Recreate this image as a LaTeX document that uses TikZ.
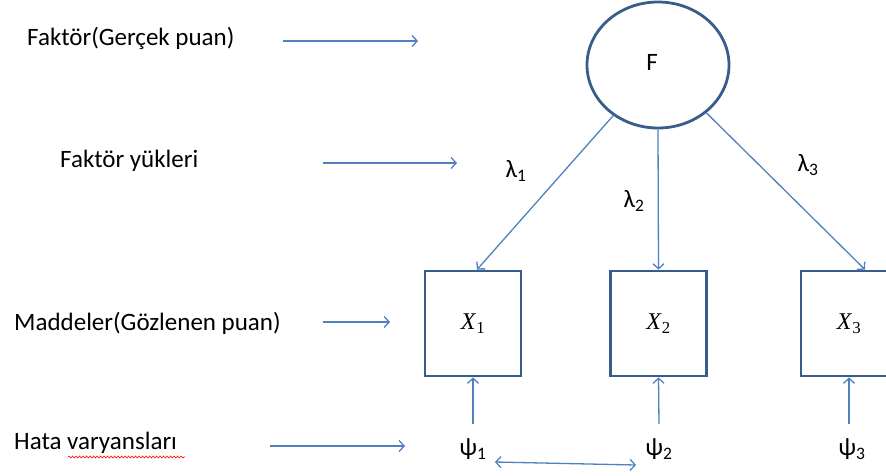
\documentclass[tikz,border=0pt]{standalone}
\usepackage{fontspec}
\setmainfont{Carlito}
\newfontfamily\itemfont{Liberation Serif}
\usetikzlibrary{arrows.meta,shapes.geometric,decorations.pathmorphing}
\definecolor{arr}{HTML}{4F81BD}
\definecolor{boxc}{HTML}{385D8A}
\begin{document}
\begin{tikzpicture}[x=1pt,y=-1pt,
  lbl/.style={font=\fontsize{25}{30}\selectfont, inner sep=0pt, anchor=west},
  sym/.style={font=\fontsize{25}{30}\selectfont, inner sep=0pt},
  conn/.style={draw=arr, line width=1.3pt, -{Straight Barb[length=5pt,width=11pt,line width=1.3pt]}},
  dconn/.style={draw=arr, line width=1.3pt, {Straight Barb[length=5pt,width=11pt,line width=1.3pt]}-{Straight Barb[length=5pt,width=11pt,line width=1.3pt]}},
  itembox/.style={draw=boxc, line width=2.8pt, minimum width=96pt, minimum height=105pt, inner sep=0pt, font=\itemfont\fontsize{24}{28}\selectfont},
  factor/.style={ellipse, draw=boxc, line width=2.8pt, minimum width=142pt, minimum height=126pt, inner sep=0pt}
]
\useasboundingbox (0,0) rectangle (886,475);

% left labels
\node[lbl] (l1) at (27,38) {Faktör(Gerçek puan)};
\node[lbl] (l2) at (60,161) {Faktör yükleri};
\node[lbl] (l3) at (14,323) {Maddeler(Gözlenen puan)};
\node[lbl] (l4) at (14,443) {Hata varyansları};
\draw[red, line width=0.6pt, decorate, decoration={snake, amplitude=1pt, segment length=3.5pt}] (68,457) -- (185,457);

\coordinate (a1s) at (283,41); \coordinate (a1e) at (418,41);
\coordinate (a2s) at (323,163); \coordinate (a2e) at (457,163);
\coordinate (a3s) at (323,322); \coordinate (a3e) at (390,322);
\coordinate (a4s) at (270,446); \coordinate (a4e) at (405,446);
\draw[conn] (a1s) -- (a1e);
\draw[conn] (a2s) -- (a2e);
\draw[conn] (a3s) -- (a3e);
\draw[conn] (a4s) -- (a4e);

% factor
\node[factor] (F) at (658,65) {};
\node[sym] (Ft) at (652,62) {F};

% item boxes
\begin{scope}
\clip (0,0) rectangle (886,475);
\node[itembox] (X1) at (473,323.5) {\textit{X}\textsubscript{1}};
\node[itembox] (X2) at (658.5,323.5) {\textit{X}\textsubscript{2}};
\node[itembox] (X3) at (849,323.5) {\textit{X}\textsubscript{3}};
\end{scope}

% loadings
\draw[conn] (F) -- ([xshift=4pt]X1.north);
\draw[conn] (F.south) -- (X2.north);
\draw[conn] (F) -- ([xshift=16pt]X3.north);

\node[sym] (lam1) at (516,171) {λ\textsubscript{1}};
\node[sym] (lam2) at (634,201) {λ\textsubscript{2}};
\node[sym] (lam3) at (808,165) {λ\textsubscript{3}};

% error terms
\node[sym] (p1) at (473,449) {ψ\textsubscript{1}};
\node[sym] (p2) at (659,449) {ψ\textsubscript{2}};
\node[sym] (p3) at (852,449) {ψ\textsubscript{3}};
\coordinate (p1t) at (473,424);
\coordinate (p2t) at (659,424);
\coordinate (p3t) at (849,424);
\draw[conn] (p1t) -- (X1.south);
\draw[conn] (p2t) -- (X2.south);
\draw[conn] (p3t) -- (X3.south);

\coordinate (c1) at (495,462);
\coordinate (c2) at (636,465);
\draw[dconn] (c1) -- (c2);
\end{tikzpicture}
\end{document}
